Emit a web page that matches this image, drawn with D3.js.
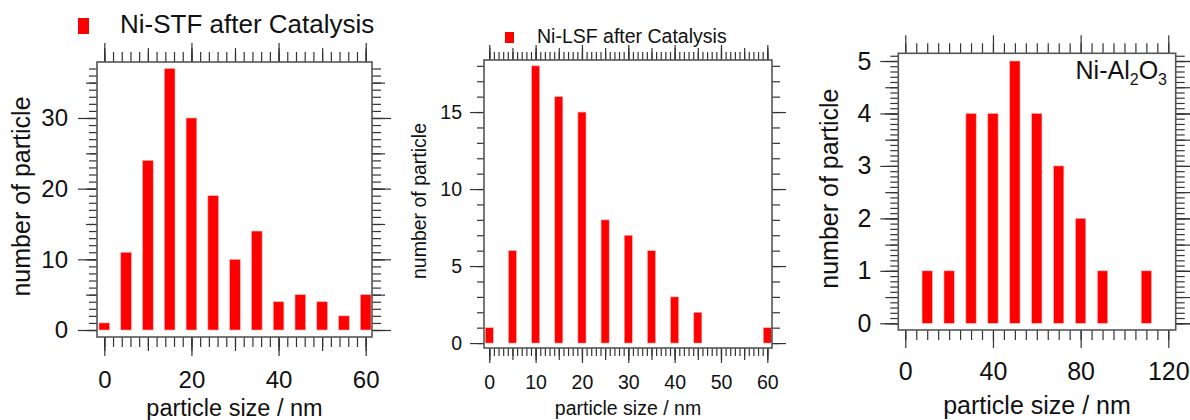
<!DOCTYPE html>
<html>
<head>
<meta charset="utf-8">
<script src="https://cdn.jsdelivr.net/npm/d3@7"></script>
<style>
  body { margin: 0; background: #fff; }
  svg { display: block; font-family: "Liberation Sans", Arial, sans-serif; }
</style>
</head>
<body>
<svg id="chart" width="1190" height="420"></svg>
<script>
// particle size histograms, three samples
var stfSize  = [0, 5, 10, 15, 20, 25, 30, 35, 40, 45, 50, 55, 60];
var stfCount = [1, 11, 24, 37, 30, 19, 10, 14, 4, 5, 4, 2, 5];
var stfXTicks = [0, 20, 40, 60];
var stfYTicks = [0, 10, 20, 30];

var lsfSize  = [0, 5, 10, 15, 20, 25, 30, 35, 40, 45, 50, 55, 60];
var lsfCount = [1, 6, 18, 16, 15, 8, 7, 6, 3, 2, 0, 0, 1];
var lsfXTicks = [0, 10, 20, 30, 40, 50, 60];
var lsfYTicks = [0, 5, 10, 15];

var aloSize  = [0, 10, 20, 30, 40, 50, 60, 70, 80, 90, 100, 110, 120];
var aloCount = [0, 1, 1, 4, 4, 5, 4, 3, 2, 1, 0, 1, 0];
var aloXTicks = [0, 40, 80, 120];
var aloYTicks = [0, 1, 2, 3, 4, 5];

var svg = d3.select("#chart");

function steps(lo, hi, step){
  return d3.range(Math.round((hi - lo) / step) + 1).map(i => +(lo + i * step).toFixed(3));
}

function tickAxis(g, axis, values, size, pad, labels){
  axis.tickValues(values).tickSizeInner(size).tickSizeOuter(0).tickPadding(pad);
  axis.tickFormat(labels ? d3.format("d") : "");
  g.call(axis);
  g.select(".domain").remove();
  g.selectAll("line").attr("stroke", "#333").attr("stroke-width", 1.2);
  return g;
}

function drawPanel(p){
  let x = d3.scaleLinear().domain(p.xDomain).range([p.left, p.right]);
  let y = d3.scaleLinear().domain(p.yDomain).range([p.bottom, p.top]);
  let g = svg.append("g");

  // bars
  g.selectAll("rect.bar").data(p.sizes).enter().append("rect")
    .attr("class", "bar")
    .attr("x", (d) => x(d - p.barW / 2))
    .attr("width", x(p.barW) - x(0))
    .attr("y", (d, i) => y(p.counts[i]))
    .attr("height", (d, i) => y(0) - y(p.counts[i]))
    .attr("fill", "#ff0000")
    .attr("stroke", "#ffb3b3")
    .attr("stroke-width", 0.6);

  // tick levels: minor, medium, major (major carries labels)
  let xMinor = steps(0, p.xTickMax, p.xMinor);
  let xMed = p.xMed ? steps(0, p.xTickMax, p.xMed) : [];
  let yMinor = steps(0, p.yTickMax, p.yMinor);
  let yMed = p.yMed ? steps(0, p.yTickMax, p.yMed) : [];

  let gb = g.append("g").attr("transform", "translate(0," + p.bottom + ")");
  tickAxis(gb.append("g"), d3.axisBottom(x), xMinor, p.xLen[0], 0, false);
  if (xMed.length) tickAxis(gb.append("g"), d3.axisBottom(x), xMed, p.xLen[1], 0, false);
  tickAxis(gb.append("g"), d3.axisBottom(x), p.xTicks, p.xLen[2], p.xPad, true)
    .selectAll("text").attr("font-size", p.font).attr("fill", "#111");

  let gt = g.append("g").attr("transform", "translate(0," + p.top + ")");
  tickAxis(gt.append("g"), d3.axisTop(x), xMinor, p.xLen[0], 0, false);
  if (xMed.length) tickAxis(gt.append("g"), d3.axisTop(x), xMed, p.xLen[1], 0, false);
  tickAxis(gt.append("g"), d3.axisTop(x), p.xTicks, p.xLen[2], 0, false);

  let gl = g.append("g").attr("transform", "translate(" + p.left + ",0)");
  tickAxis(gl.append("g"), d3.axisLeft(y), yMinor, p.yLen[0], 0, false);
  if (yMed.length) tickAxis(gl.append("g"), d3.axisLeft(y), yMed, p.yLen[1], 0, false);
  tickAxis(gl.append("g"), d3.axisLeft(y), p.yTicks, p.yLen[2], p.yPad, true)
    .selectAll("text").attr("font-size", p.font).attr("fill", "#111");

  let gr = g.append("g").attr("transform", "translate(" + p.right + ",0)");
  tickAxis(gr.append("g"), d3.axisRight(y), yMinor, p.yLen[0] + 1, 0, false);
  if (yMed.length) tickAxis(gr.append("g"), d3.axisRight(y), yMed, p.yLen[1] + 2, 0, false);
  tickAxis(gr.append("g"), d3.axisRight(y), p.yTicks, p.yLen[2], 0, false);

  g.selectAll(".tick text").attr("font-family", "Liberation Sans, Arial, sans-serif");

  // frame
  g.append("rect")
    .attr("x", p.left).attr("y", p.top)
    .attr("width", p.right - p.left).attr("height", p.bottom - p.top)
    .attr("fill", "none").attr("stroke", "#555").attr("stroke-width", 1.6);

  // axis titles
  g.append("text")
    .attr("x", (p.left + p.right) / 2).attr("y", p.xTitleY)
    .attr("text-anchor", "middle").attr("font-size", p.titleFont).attr("fill", "#111")
    .text("particle size / nm");

  g.append("text")
    .attr("transform", "translate(" + p.yTitleX + "," + ((p.top + p.bottom) / 2 - 3) + ") rotate(-90)")
    .attr("text-anchor", "middle").attr("dominant-baseline", "central")
    .attr("font-size", p.yTitleFont || p.titleFont).attr("fill", "#111")
    .text("number of particle");

  return g;
}

let g1 = drawPanel({
  sizes: stfSize, counts: stfCount, xTicks: stfXTicks, yTicks: stfYTicks,
  left: 97, right: 372, top: 62, bottom: 337,
  xDomain: [-1.68, 61.45], yDomain: [-0.99, 37.92],
  barW: 2.45, xTickMax: 60, xMinor: 2, xMed: 10, yTickMax: 37, yMinor: 1, yMed: 5,
  xLen: [10, 14, 19], yLen: [8, 11, 19], xPad: 15, yPad: 10,
  font: 24, titleFont: 23.5, yTitleFont: 25, xTitleY: 416, yTitleX: 21
});
g1.append("rect").attr("x", 78).attr("y", 18).attr("width", 11).attr("height", 16).attr("fill", "#ff0000");
g1.append("text").attr("x", 120).attr("y", 33).attr("font-size", 26).attr("fill", "#111")
  .text("Ni-STF after Catalysis");

let g2 = drawPanel({
  sizes: lsfSize, counts: lsfCount, xTicks: lsfXTicks, yTicks: lsfYTicks,
  left: 484, right: 772, top: 60, bottom: 348,
  xDomain: [-1.14, 61.01], yDomain: [-0.32, 18.38],
  barW: 1.75, xTickMax: 60, xMinor: 1, xMed: 5, yTickMax: 18, yMinor: 1, yMed: 0,
  xLen: [8, 12, 15], yLen: [7, 0, 14], xPad: 12, yPad: 8,
  font: 19.5, titleFont: 19.5, xTitleY: 415, yTitleX: 419
});
g2.append("rect").attr("x", 505).attr("y", 32).attr("width", 9).attr("height", 11).attr("fill", "#ff0000");
g2.append("text").attr("x", 537).attr("y", 43).attr("font-size", 19.5).attr("fill", "#111")
  .text("Ni-LSF after Catalysis");

let g3 = drawPanel({
  sizes: aloSize, counts: aloCount, xTicks: aloXTicks, yTicks: aloYTicks,
  left: 898.3, right: 1175.7, top: 53.3, bottom: 330,
  xDomain: [-3.19, 123.38], yDomain: [-0.128, 5.147],
  barW: 4.7, xTickMax: 120, xMinor: 5, xMed: 0, yTickMax: 5.1, yMinor: 0.1, yMed: 0.5,
  xLen: [10, 0, 18], yLen: [8, 13, 18], xPad: 14, yPad: 9,
  font: 25, titleFont: 25, xTitleY: 414, yTitleX: 829
});
let lab = g3.append("text").attr("x", 1167).attr("y", 79).attr("text-anchor", "end")
  .attr("font-size", 25).attr("fill", "#111");
lab.append("tspan").text("Ni-Al");
lab.append("tspan").attr("font-size", 16).attr("dy", 6).text("2");
lab.append("tspan").attr("dy", -6).text("O");
lab.append("tspan").attr("font-size", 16).attr("dy", 6).text("3");
</script>
</body>
</html>
